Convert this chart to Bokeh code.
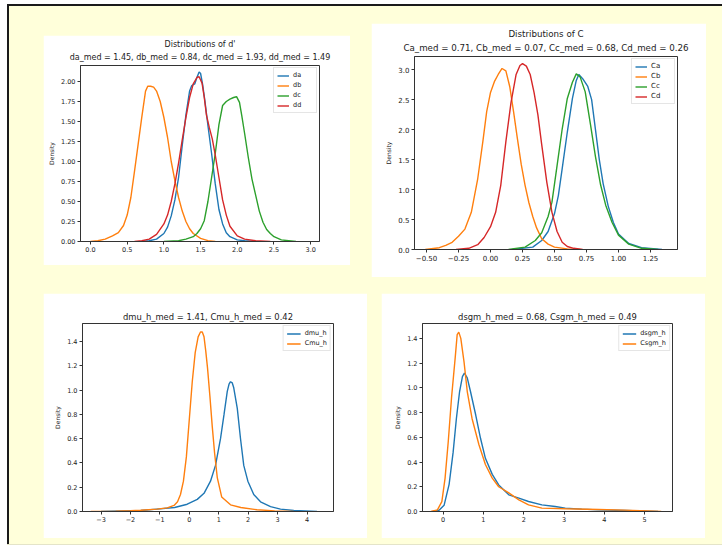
import numpy as np
from bokeh.plotting import figure
from bokeh.models import (FixedTicker, Legend, LegendItem, Title, Spacer, Range1d)
from bokeh.layouts import row, column
from bokeh.embed import file_html
from bokeh.resources import INLINE

# ---------------- data ----------------
# Panel 1: distributions of d'
da_x = [0.70, 0.80, 0.90, 1.00, 1.05, 1.10, 1.15, 1.20, 1.25, 1.30, 1.35, 1.38, 1.42, 1.45, 1.48, 1.50, 1.53, 1.56, 1.60, 1.65, 1.70, 1.75, 1.80, 1.85, 1.90, 2.00, 2.10, 2.25]
da_y = [0.00, 0.01, 0.03, 0.10, 0.18, 0.32, 0.52, 0.80, 1.20, 1.58, 1.88, 1.95, 1.97, 2.05, 2.12, 2.10, 1.95, 1.75, 1.45, 1.10, 0.72, 0.40, 0.22, 0.11, 0.06, 0.02, 0.01, 0.00]
db_x = [0.00, 0.10, 0.20, 0.30, 0.38, 0.45, 0.50, 0.55, 0.60, 0.65, 0.70, 0.75, 0.78, 0.82, 0.86, 0.90, 0.95, 1.00, 1.05, 1.10, 1.15, 1.20, 1.25, 1.30, 1.35, 1.40, 1.50, 1.60, 1.70]
db_y = [0.00, 0.01, 0.03, 0.07, 0.11, 0.20, 0.33, 0.55, 0.88, 1.22, 1.56, 1.88, 1.94, 1.94, 1.93, 1.88, 1.75, 1.55, 1.30, 1.00, 0.76, 0.55, 0.38, 0.25, 0.16, 0.10, 0.04, 0.01, 0.00]
dc_x = [1.00, 1.20, 1.30, 1.40, 1.45, 1.50, 1.55, 1.60, 1.65, 1.70, 1.75, 1.80, 1.85, 1.90, 1.95, 1.99, 2.03, 2.06, 2.10, 2.15, 2.20, 2.25, 2.30, 2.35, 2.40, 2.45, 2.50, 2.60, 2.70, 2.80]
dc_y = [0.00, 0.01, 0.03, 0.06, 0.10, 0.16, 0.26, 0.50, 0.80, 1.10, 1.46, 1.70, 1.75, 1.78, 1.80, 1.81, 1.74, 1.58, 1.35, 1.05, 0.78, 0.58, 0.38, 0.24, 0.15, 0.10, 0.06, 0.02, 0.01, 0.00]
dd_x = [0.60, 0.70, 0.80, 0.90, 1.00, 1.05, 1.10, 1.15, 1.20, 1.25, 1.30, 1.35, 1.40, 1.45, 1.48, 1.52, 1.55, 1.58, 1.62, 1.66, 1.70, 1.75, 1.80, 1.85, 1.90, 2.00, 2.10, 2.25, 2.45]
dd_y = [0.00, 0.01, 0.03, 0.09, 0.22, 0.33, 0.50, 0.72, 0.98, 1.27, 1.55, 1.80, 1.97, 2.05, 2.06, 1.98, 1.80, 1.58, 1.42, 1.28, 1.08, 0.80, 0.52, 0.33, 0.19, 0.07, 0.03, 0.01, 0.00]

# Panel 2: distributions of C
Ca_x = [0.17, 0.33, 0.40, 0.45, 0.50, 0.53, 0.56, 0.60, 0.64, 0.67, 0.69, 0.72, 0.76, 0.79, 0.82, 0.85, 0.88, 0.92, 0.96, 1.00, 1.08, 1.18, 1.34]
Ca_y = [0.00, 0.04, 0.15, 0.30, 0.60, 0.90, 1.35, 1.96, 2.52, 2.82, 2.92, 2.85, 2.72, 2.50, 2.00, 1.50, 1.10, 0.72, 0.45, 0.26, 0.10, 0.03, 0.00]
Cb_x = [-0.51, -0.40, -0.35, -0.30, -0.25, -0.20, -0.15, -0.10, -0.06, -0.03, 0.00, 0.03, 0.06, 0.09, 0.12, 0.15, 0.18, 0.21, 0.24, 0.27, 0.30, 0.33, 0.36, 0.40, 0.45, 0.50, 0.60, 0.70]
Cb_y = [0.00, 0.03, 0.07, 0.12, 0.22, 0.34, 0.62, 1.18, 1.80, 2.30, 2.62, 2.80, 2.92, 3.02, 2.98, 2.72, 2.30, 1.85, 1.42, 1.07, 0.78, 0.55, 0.36, 0.18, 0.09, 0.04, 0.01, 0.00]
Cc_x = [0.14, 0.27, 0.35, 0.40, 0.45, 0.48, 0.52, 0.56, 0.60, 0.64, 0.67, 0.70, 0.74, 0.78, 0.82, 0.86, 0.90, 0.95, 1.00, 1.08, 1.18, 1.31]
Cc_y = [0.00, 0.04, 0.15, 0.28, 0.55, 0.79, 1.40, 2.01, 2.52, 2.79, 2.93, 2.88, 2.63, 2.10, 1.55, 1.08, 0.74, 0.45, 0.24, 0.09, 0.02, 0.00]
Cd_x = [-0.27, -0.17, -0.10, -0.05, 0.00, 0.04, 0.08, 0.12, 0.16, 0.20, 0.23, 0.25, 0.28, 0.31, 0.34, 0.37, 0.40, 0.44, 0.48, 0.52, 0.56, 0.60, 0.65, 0.72]
Cd_y = [0.00, 0.02, 0.08, 0.20, 0.38, 0.62, 1.07, 1.80, 2.45, 2.92, 3.07, 3.10, 3.06, 2.92, 2.62, 2.25, 1.75, 1.12, 0.62, 0.30, 0.12, 0.05, 0.02, 0.00]

# Panel 3: dmu_h / Cmu_h
dmu_x = [-3.0, -2.3, -1.65, -1.1, -0.5, -0.07, 0.27, 0.50, 0.72, 0.89, 1.06, 1.18, 1.29, 1.35, 1.40, 1.46, 1.51, 1.63, 1.74, 1.85, 1.99, 2.19, 2.42, 2.76, 3.10, 3.55, 4.34]
dmu_y = [0.00, 0.004, 0.008, 0.02, 0.033, 0.06, 0.10, 0.15, 0.25, 0.38, 0.60, 0.80, 0.99, 1.05, 1.07, 1.06, 1.02, 0.85, 0.60, 0.38, 0.25, 0.14, 0.08, 0.04, 0.02, 0.008, 0.00]
Cmu_x = [-3.35, -2.5, -2.0, -1.65, -1.1, -0.75, -0.52, -0.40, -0.30, -0.20, -0.10, 0.00, 0.10, 0.20, 0.30, 0.38, 0.44, 0.50, 0.56, 0.62, 0.70, 0.78, 0.86, 0.95, 1.10, 1.40, 1.75, 2.30, 2.90, 3.55]
Cmu_y = [0.00, 0.003, 0.006, 0.01, 0.02, 0.03, 0.05, 0.08, 0.14, 0.25, 0.45, 0.76, 1.07, 1.31, 1.44, 1.48, 1.48, 1.44, 1.32, 1.18, 0.95, 0.70, 0.48, 0.28, 0.12, 0.055, 0.033, 0.014, 0.005, 0.00]

# Panel 4: dsgm_h / Csgm_h
dsgm_x = [-0.26, -0.10, 0.025, 0.15, 0.25, 0.33, 0.41, 0.48, 0.53, 0.60, 0.68, 0.81, 0.93, 1.05, 1.22, 1.38, 1.63, 1.88, 2.12, 2.45, 2.78, 3.03, 3.44, 3.85, 4.50, 5.33]
dsgm_y = [0.00, 0.01, 0.05, 0.22, 0.48, 0.75, 0.97, 1.09, 1.12, 1.08, 0.97, 0.78, 0.59, 0.43, 0.30, 0.215, 0.135, 0.108, 0.081, 0.054, 0.04, 0.027, 0.019, 0.013, 0.008, 0.00]
Csgm_x = [-0.30, -0.14, -0.03, 0.05, 0.13, 0.21, 0.30, 0.35, 0.39, 0.44, 0.52, 0.60, 0.72, 0.89, 1.05, 1.22, 1.38, 1.63, 1.88, 2.12, 2.45, 3.03, 3.85, 4.50, 5.08, 5.41]
Csgm_y = [0.00, 0.013, 0.08, 0.27, 0.57, 0.92, 1.24, 1.43, 1.45, 1.40, 1.21, 0.97, 0.75, 0.54, 0.38, 0.27, 0.20, 0.15, 0.094, 0.054, 0.027, 0.022, 0.016, 0.011, 0.005, 0.00]

# tick values and labels
p1_xticks = [0.0, 0.5, 1.0, 1.5, 2.0, 2.5, 3.0]
p1_xlabels = ["0.0", "0.5", "1.0", "1.5", "2.0", "2.5", "3.0"]
p1_yticks = [0.0, 0.25, 0.5, 0.75, 1.0, 1.25, 1.5, 1.75, 2.0]
p1_ylabels = ["0.00", "0.25", "0.50", "0.75", "1.00", "1.25", "1.50", "1.75", "2.00"]
p2_xticks = [-0.5, -0.25, 0.0, 0.25, 0.5, 0.75, 1.0, 1.25]
p2_xlabels = ["\u22120.50", "\u22120.25", "0.00", "0.25", "0.50", "0.75", "1.00", "1.25"]
p2_yticks = [0.0, 0.5, 1.0, 1.5, 2.0, 2.5, 3.0]
p2_ylabels = ["0.0", "0.5", "1.0", "1.5", "2.0", "2.5", "3.0"]
p3_xticks = [-3, -2, -1, 0, 1, 2, 3, 4]
p3_xlabels = ["\u22123", "\u22122", "\u22121", "0", "1", "2", "3", "4"]
p34_yticks = [0.0, 0.2, 0.4, 0.6, 0.8, 1.0, 1.2, 1.4]
p34_ylabels = ["0.0", "0.2", "0.4", "0.6", "0.8", "1.0", "1.2", "1.4"]
p4_xticks = [0, 1, 2, 3, 4, 5]
p4_xlabels = ["0", "1", "2", "3", "4", "5"]

BLUE, ORANGE, GREEN, RED = "#1f77b4", "#ff7f0e", "#2ca02c", "#d62728"
FONT = "DejaVu Sans"
INK = "#333333"


def make_panel(w, h, borders, xr, yr, xt, xtl, yt, ytl, titles, series,
               title_size, tick_size, leg_size, leg_glyph):
    bl, br, bt, bb = borders
    p = figure(width=w, height=h, x_range=Range1d(*xr), y_range=Range1d(*yr),
               output_backend="svg", toolbar_location=None,
               min_border_left=bl, min_border_right=br,
               min_border_top=bt, min_border_bottom=bb,
               background_fill_color="white", border_fill_color="white")
    p.xgrid.visible = False
    p.ygrid.visible = False
    p.outline_line_color = INK
    p.outline_line_width = 1
    for ax, ticks, labels in ((p.xaxis[0], xt, xtl), (p.yaxis[0], yt, ytl)):
        ax.ticker = FixedTicker(ticks=ticks)
        ax.major_label_overrides = {t: l for t, l in zip(ticks, labels)}
        ax.axis_line_color = INK
        ax.major_tick_line_color = INK
        ax.major_tick_out = 3
        ax.major_tick_in = 0
        ax.minor_tick_line_color = None
        ax.major_label_text_font = FONT
        ax.major_label_text_font_size = tick_size
        ax.major_label_text_color = "#222222"
        ax.major_label_standoff = 2
    p.yaxis[0].axis_label = "Density"
    p.yaxis[0].axis_label_text_font = FONT
    p.yaxis[0].axis_label_text_font_size = "6px"
    p.yaxis[0].axis_label_text_font_style = "normal"
    p.yaxis[0].axis_label_text_color = "#222222"
    p.yaxis[0].axis_label_standoff = 3

    # titles: p.title is the outer line, the extra Title sits next to the frame
    p.title.text = titles[0]
    p.title.align = "center"
    p.title.text_font = FONT
    p.title.text_font_size = title_size
    p.title.text_font_style = "normal"
    p.title.text_color = "#222222"
    p.title.text_line_height = 1.0
    p.title.vertical_align = "bottom"
    p.title.standoff = 4
    if len(titles) > 1:
        t2 = Title(text=titles[1], align="center", text_font=FONT,
                   text_font_size=title_size, text_font_style="normal",
                   text_color="#222222", text_line_height=1.0,
                   vertical_align="top", standoff=4)
        p.add_layout(t2, "above")

    items = []
    for name, xs, ys, color in series:
        r = p.line(xs, ys, line_color=color, line_width=1.4)
        items.append(LegendItem(label=name, renderers=[r]))
    leg = Legend(items=items, location="top_right")
    leg.label_text_font = FONT
    leg.label_text_font_size = leg_size
    leg.label_text_color = "#222222"
    leg.label_height = 7
    leg.glyph_height = 7
    leg.glyph_width = leg_glyph
    leg.label_standoff = 4
    leg.spacing = 2
    leg.padding = 3
    leg.margin = 2
    leg.border_line_color = "#cccccc"
    leg.border_line_width = 1
    leg.background_fill_color = "white"
    leg.background_fill_alpha = 0.8
    p.add_layout(leg)
    return p


p1 = make_panel(307, 230, (37, 31, 29, 24), (-0.136, 3.12), (0, 2.2),
                p1_xticks, p1_xlabels, p1_yticks, p1_ylabels,
                ["Distributions of d'", "da_med = 1.45, db_med = 0.84, dc_med = 1.93, dd_med = 1.49"],
                [("da", da_x, da_y, BLUE), ("db", db_x, db_y, ORANGE),
                 ("dc", dc_x, dc_y, GREEN), ("dd", dd_x, dd_y, RED)],
                "8px", "6.5px", "6.5px", 12)

p2 = make_panel(335, 254, (43, 29, 33, 28), (-0.594, 1.461), (0, 3.22),
                p2_xticks, p2_xlabels, p2_yticks, p2_ylabels,
                ["Distributions of C", "Ca_med = 0.71, Cb_med = 0.07, Cc_med = 0.68, Cd_med = 0.26"],
                [("Ca", Ca_x, Ca_y, BLUE), ("Cb", Cb_x, Cb_y, ORANGE),
                 ("Cc", Cc_x, Cc_y, GREEN), ("Cd", Cd_x, Cd_y, RED)],
                "8.7px", "7px", "7px", 12)

p3 = make_panel(324, 245, (39, 34, 30, 26), (-3.63, 4.90), (0, 1.55),
                p3_xticks, p3_xlabels, p34_yticks, p34_ylabels,
                ["dmu_h_med = 1.41, Cmu_h_med = 0.42"],
                [("dmu_h", dmu_x, dmu_y, BLUE), ("Cmu_h", Cmu_x, Cmu_y, ORANGE)],
                "8.4px", "6.5px", "6.5px", 14)

p4 = make_panel(324, 245, (41, 33, 30, 27), (-0.51, 5.69), (0, 1.52),
                p4_xticks, p4_xlabels, p34_yticks, p34_ylabels,
                ["dsgm_h_med = 0.68, Csgm_h_med = 0.49"],
                [("dsgm_h", dsgm_x, dsgm_y, BLUE), ("Csgm_h", Csgm_x, Csgm_y, ORANGE)],
                "8.4px", "6.5px", "6.5px", 14)

# ---------------- page layout ----------------
BAR = {"background-color": "#1a1a1a"}
row1 = row(Spacer(width=34, height=10), column(Spacer(width=10, height=29), p1),
           Spacer(width=21, height=10), column(Spacer(width=10, height=17), p2),
           Spacer(width=16, height=10))
row2 = row(Spacer(width=34, height=10), p3, Spacer(width=14, height=10), p4,
           Spacer(width=17, height=10))
content = column(row1, Spacer(width=10, height=16), row2, Spacer(width=10, height=6))
main = row(Spacer(width=2, height=538, styles=BAR), content)
root = column(Spacer(width=715, height=2, styles=BAR), main,
              Spacer(width=715, height=1, styles={"background-color": "#e4e4c8"}),
              styles={"background-color": "#FFFFDA", "margin-top": "4px",
                      "margin-left": "7px"})

open("out.html", "w").write(file_html(root, INLINE))
